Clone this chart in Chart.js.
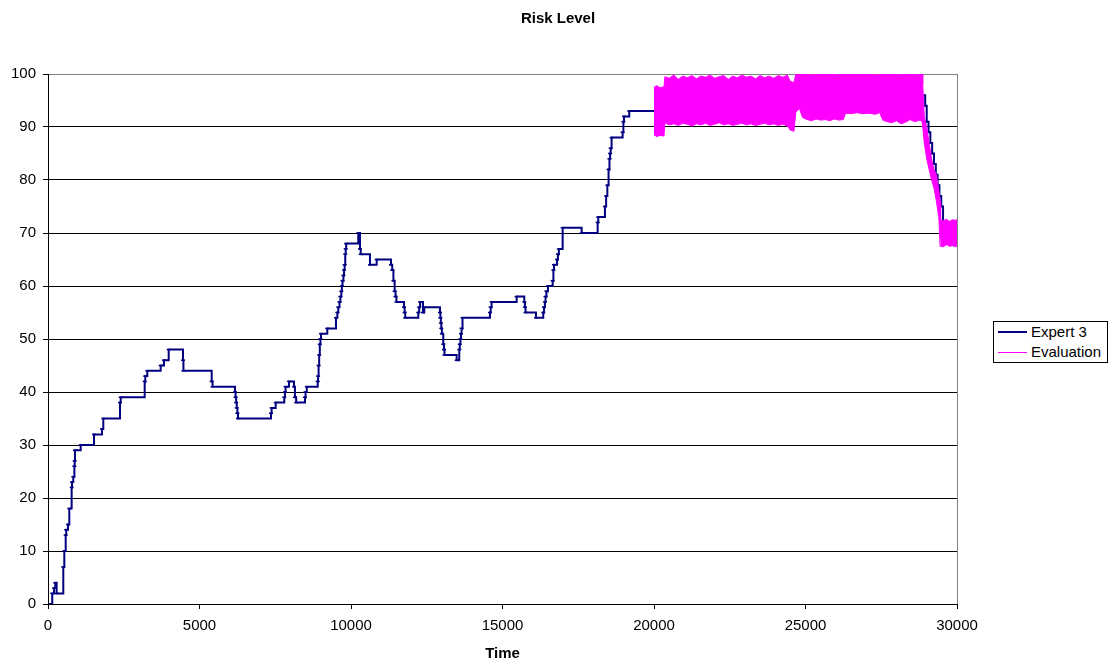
<!DOCTYPE html>
<html>
<head>
<meta charset="utf-8">
<script src="https://cdn.jsdelivr.net/npm/chart.js@4/dist/chart.umd.min.js"></script>
<style>
  html, body { margin: 0; padding: 0; background: #fff; }
  #wrap { position: relative; width: 1116px; height: 664px; }
  #title {
    position: absolute; left: 0; top: 9px; width: 1116px; height: 18px; line-height: 18px;
    text-align: center; font-family: 'Liberation Sans', Arial, sans-serif;
    font-size: 15px; font-weight: bold; color: #000;
  }
  #legend {
    position: absolute; left: 993px; top: 321px; width: 115px; height: 42px;
    border: 1px solid #000; box-sizing: border-box; background: #fff;
    font-family: 'Liberation Sans', Arial, sans-serif; font-size: 15px; color: #000;
  }
  .row { position: absolute; left: 0; height: 18px; line-height: 18px; white-space: nowrap; }
  .sample { position: absolute; left: 4px; width: 29px; }
  .label { position: absolute; left: 37px; }
</style>
</head>
<body>
<div id="wrap">
  <canvas id="c" width="1116" height="664"></canvas>
  <div id="title"></div>
  <div id="legend">
    <div class="row" style="top:1px;"><div class="sample" style="top:8px;height:2px;background:#000080;"></div><div class="label" id="lg0"></div></div>
    <div class="row" style="top:21px;"><div class="sample" style="top:9px;height:1px;background:#FF00FF;"></div><div class="label" id="lg1"></div></div>
  </div>
</div>
<script>
// ---- Data ----
const chartTitle = 'Risk Level';
const xTitle = 'Time';
const seriesNames = ['Expert 3', 'Evaluation'];

// Expert 3: time at which the level changes, and the new level
const expertTime = [
  0, 140, 200, 240, 285, 505, 538, 584, 600, 660, 703, 780, 792, 835, 870, 880, 890,
  1079, 1518, 1782, 1825, 2376, 2400, 3191, 3210, 3277, 3719, 3828, 3983, 4455, 4470,
  5402, 5430, 6171, 6190, 6210, 6230, 6250, 6270, 7359, 7380, 7514, 7798, 7820, 7840,
  7953, 8118, 8150, 8190, 8481, 8500, 8540, 8900, 8915, 8930, 8950, 8970, 8990, 9010,
  9217, 9504, 9550, 9580, 9620, 9650, 9680, 9700, 9720, 9750, 9770, 9790, 9810, 9825, 9840,
  10240, 10296, 10320, 10626, 10847, 11319, 11360, 11400, 11440, 11470, 11500,
  11748, 11770, 11790, 12220, 12250, 12280, 12375, 12418,
  12936, 12950, 12965, 12980, 13000, 13045, 13070, 13085, 13487,
  13573, 13590, 13610, 13630, 13650, 13680, 14586, 14610, 14640, 15467,
  15718, 15740, 15760, 16104, 16345, 16370, 16400, 16420, 16450, 16500,
  16655, 16680, 16700, 16800, 16830, 16860, 16985, 17612, 18140, 18160,
  18381, 18420, 18460, 18500, 18530, 18550, 18570, 18600, 18965, 18990, 19010, 19183,
  20100, 24000, 28800, 28950, 29000, 29060, 29120, 29180, 29240, 29300, 29360, 29420,
  29480, 29540, 29600, 30000
];
const expertValue = [
  0, 2, 3, 4, 2, 7, 10, 13, 14, 15, 18, 22, 23, 24, 26, 27, 29,
  30, 32, 33, 35, 38, 39, 42, 43, 44, 45, 46, 48, 46, 44,
  42, 41, 40, 39, 38, 37, 36, 35, 36, 37, 38, 39, 40, 41,
  42, 41, 39, 38, 39, 40, 41, 42, 43, 45, 47, 49, 50, 51,
  52, 54, 55, 56, 57, 58, 59, 60, 61, 62, 63, 64, 66, 67, 68,
  70, 67, 66, 64, 65, 64, 63, 61, 59, 58, 57,
  56, 55, 54, 55, 56, 57, 55, 56,
  55, 54, 53, 52, 51, 49, 48, 47, 46,
  48, 49, 50, 51, 52, 54, 55, 56, 57, 58,
  57, 56, 55, 54, 55, 56, 57, 58, 59, 60,
  61, 63, 64, 65, 66, 67, 71, 70, 72, 73,
  75, 77, 79, 82, 84, 85, 86, 88, 89, 91, 92, 93,
  94, 95, 96, 94, 91, 89, 87, 85, 83, 81, 79, 77,
  75, 72, 70, 70
];

// Evaluation: dense oscillating band, upper and lower envelope
const evalTime = [
  20000, 20100, 20200, 20330, 20360, 20500, 20650, 20800, 20950, 21100, 21250, 21400,
  21550, 21700, 21850, 22000, 22150, 22300, 22450, 22600, 22750, 22900, 23050, 23200,
  23350, 23500, 23650, 23800, 23950, 24100, 24250, 24400, 24500, 24620, 24680, 24800,
  24900, 25050, 25200, 25350, 25500, 25650, 25800, 25950, 26100, 26250, 26320, 26500,
  26700, 26900, 27100, 27300, 27450, 27550, 27700, 27850, 28000, 28150, 28300, 28450,
  28600, 28780, 28850, 28870, 28920, 29000, 29080, 29160, 29240, 29320, 29400, 29440,
  29460, 29550, 29650, 29750, 29850, 29950, 30000
];
const evalHigh = [
  97.5, 97.8, 97.4, 97.6, 99.5, 99.2, 99.8, 99.0, 99.6, 99.3, 99.7, 99.1,
  99.6, 99.4, 99.8, 99.2, 99.5, 99.7, 99.0, 99.6, 99.3, 99.8, 99.4, 99.6,
  99.1, 99.7, 99.3, 99.6, 99.2, 99.7, 99.4, 99.8, 98.6, 98.4, 100, 100,
  100, 100, 99.8, 100, 100, 99.9, 100, 100, 99.8, 100, 100, 100,
  99.9, 100, 100, 99.8, 100, 100, 99.9, 100, 100, 99.8, 100, 100,
  99.9, 100, 100, 98, 92, 90, 87, 84, 82, 81, 78, 76,
  72.5, 72.3, 72.6, 72.2, 72.5, 72.4, 72.5
];
const evalLow = [
  88.5, 88.2, 88.4, 88.3, 90.8, 90.4, 90.6, 90.3, 90.7, 90.5, 90.2, 90.6,
  90.4, 90.7, 90.3, 90.5, 90.8, 90.4, 90.6, 90.3, 90.5, 90.7, 90.4, 90.6,
  90.3, 90.5, 90.7, 90.4, 90.6, 90.3, 90.5, 90.2, 89.4, 89.2, 92.8, 93.5,
  91.8, 91.4, 91.2, 91.5, 91.3, 91.4, 91.2, 91.5, 91.3, 91.4, 92.6, 92.5,
  92.7, 92.5, 92.6, 92.4, 92.7, 91.3, 91.0, 90.8, 91.2, 90.6, 90.9, 91.4,
  91.0, 91.3, 91.0, 90, 87, 84, 82, 80, 78.5, 76, 73, 67.5,
  67.5, 67.4, 67.8, 67.5, 67.6, 67.4, 67.6
];

const xTicks = [0, 5000, 10000, 15000, 20000, 25000, 30000];
const yTicks = [0, 10, 20, 30, 40, 50, 60, 70, 80, 90, 100];

// ---- Texts ----
document.getElementById('title').textContent = chartTitle;
document.getElementById('lg0').textContent = seriesNames[0];
document.getElementById('lg1').textContent = seriesNames[1];

// ---- Build datasets ----
const toPoints = (xs, ys) => xs.map((x, i) => ({ x: x, y: ys[i] }));
const FONT = "'Liberation Sans', Arial, sans-serif";

const frame = {
  id: 'frame',
  beforeDatasetsDraw(chart) {
    const a = chart.chartArea, ctx = chart.ctx;
    ctx.save();
    ctx.strokeStyle = '#808080';
    ctx.lineWidth = 1;
    ctx.beginPath();
    ctx.moveTo(Math.round(a.right) + 0.5, a.top);
    ctx.lineTo(Math.round(a.right) + 0.5, a.bottom);
    ctx.stroke();
    ctx.restore();
  }
};

new Chart(document.getElementById('c'), {
  type: 'line',
  data: {
    datasets: [
      {
        label: seriesNames[1],
        data: toPoints(evalTime, evalHigh),
        borderColor: '#FF00FF', backgroundColor: '#FF00FF',
        borderWidth: 1, pointRadius: 0, fill: '+1', tension: 0
      },
      {
        label: seriesNames[1] + ' low',
        data: toPoints(evalTime, evalLow),
        borderColor: '#FF00FF', backgroundColor: '#FF00FF',
        borderWidth: 1, pointRadius: 0, fill: false, tension: 0
      },
      {
        label: seriesNames[0],
        data: toPoints(expertTime, expertValue),
        borderColor: '#000080', backgroundColor: '#000080',
        borderWidth: 2, stepped: 'before', fill: false,
        pointStyle: 'line', pointRadius: 2, pointBorderWidth: 1.5,
        pointBorderColor: '#000080'
      }
    ]
  },
  options: {
    responsive: false,
    animation: false,
    layout: { padding: { left: 0, right: 159, top: 74, bottom: 0 } },
    plugins: {
      legend: { display: false },
      tooltip: { enabled: false },
      title: { display: false }
    },
    scales: {
      x: {
        type: 'linear', min: 0, max: 30000,
        afterFit(s) { s.height = 60; },
        afterBuildTicks(s) { s.ticks = xTicks.map(v => ({ value: v })); },
        ticks: {
          color: '#000', font: { family: FONT, size: 15 }, padding: 8, maxRotation: 0,
          callback: (v) => String(v)
        },
        grid: { drawOnChartArea: false, drawTicks: true, tickLength: 5, tickColor: '#000', tickWidth: 1 },
        border: { color: '#000', width: 1 },
        title: {
          display: true, text: xTitle, color: '#000',
          font: { family: FONT, size: 15, weight: 'bold', lineHeight: 1.2 },
          padding: { top: 0, bottom: 1 }
        }
      },
      y: {
        type: 'linear', min: 0, max: 100,
        afterFit(s) { s.width = 48; },
        afterBuildTicks(s) { s.ticks = yTicks.map(v => ({ value: v })); },
        ticks: { color: '#000', font: { family: FONT, size: 15 }, padding: 7, callback: (v) => String(v) },
        grid: {
          color: (c) => (c.tick && c.tick.value === 100) ? '#808080' : '#000',
          lineWidth: 1, tickLength: 5, tickColor: '#000'
        },
        border: { color: '#000', width: 1 }
      }
    }
  },
  plugins: [frame]
});
</script>
</body>
</html>
